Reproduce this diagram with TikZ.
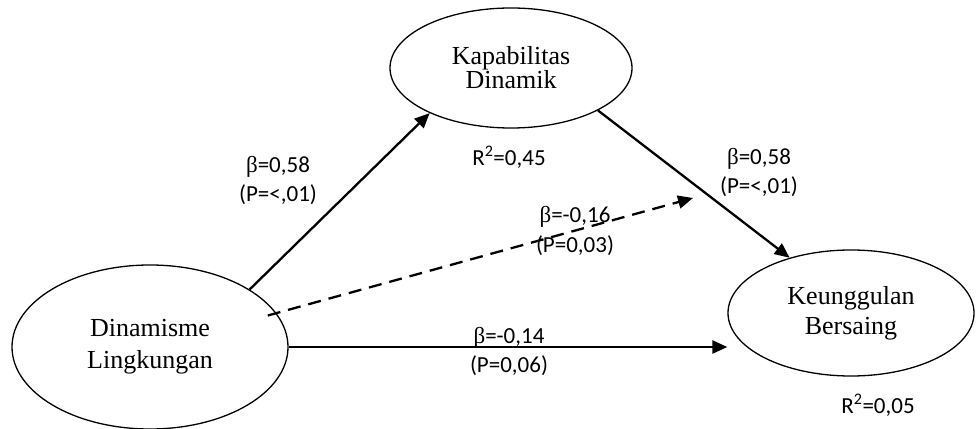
\documentclass[tikz,border=0pt]{standalone}
\usepackage{fontspec}
\setmainfont{Liberation Serif}
\newfontfamily\lblfont{Carlito}
\usetikzlibrary{shapes.geometric,arrows.meta}
\newcommand{\bet}{{\rmfamily β}}
\tikzset{
  construct/.style={ellipse,draw,line width=1.3pt,inner sep=0pt,align=center,
    font=\fontsize{26}{30}\selectfont},
  link/.style={line width=2.3pt,-{Triangle[length=15pt,width=13pt]}},
  coef/.style={align=center,font=\lblfont\fontsize{23}{29}\selectfont}
}
\begin{document}
\begin{tikzpicture}[x=1pt,y=1pt]
    \useasboundingbox (0,0) rectangle (976,428);
    % constructs
    \node[construct,minimum width=242pt,minimum height=120pt,
      font=\fontsize{26}{24}\selectfont] (kap) at (511,360) {Kapabilitas\\Dinamik};
    \node[construct,minimum width=276pt,minimum height=164pt,
      font=\fontsize{26}{32}\selectfont] (din) at (150,81) {Dinamisme\\Lingkungan};
    \node[construct,minimum width=246pt,minimum height=126pt] (keu) at (851,115) {Keunggulan\\Bersaing};
    \coordinate (dashend) at (693,230);
    % paths
    \draw[link] (din.30) -- (kap.209);
    \draw[link] (kap.334) -- (keu.138);
    \draw[link,dash pattern=on 13pt off 8pt,shorten <=-9pt] (din.15) -- (dashend);
    \draw[link] (din.east) -- (din.east -| keu.west);
    % coefficients
    \node[coef] (c1) at (278,247) {\bet=0,58\\(P=<,01)};
    \node[coef] (c2) at (759,255) {\bet=0,58\\(P=<,01)};
    \node[coef] (c3) at (575,197) {\bet=-0,16\\(P=0,03)};
    \node[coef] (c4) at (509,77) {\bet=-0,14\\(P=0,06)};
    \node[coef] (r1) at (509,271) {R\textsuperscript{2}=0,45};
    \node[coef] (r2) at (878,23) {R\textsuperscript{2}=0,05};
\end{tikzpicture}
\end{document}
